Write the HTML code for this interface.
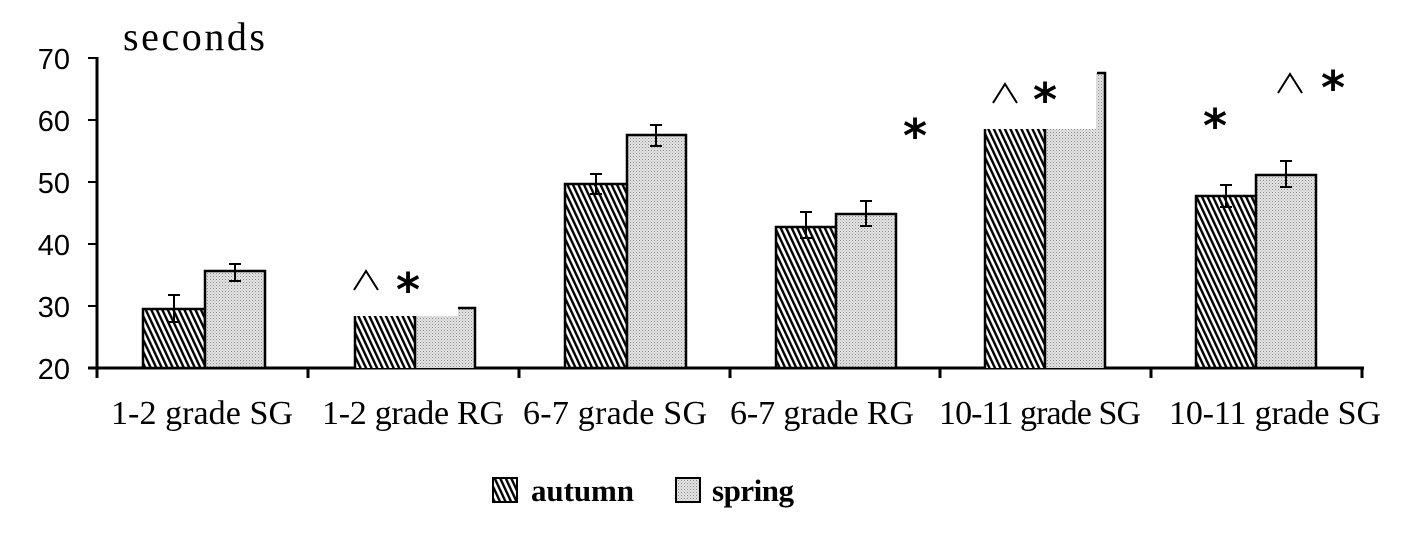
<!DOCTYPE html>
<html><head><style>body{margin:0;background:#fff}</style></head><body>
<svg width="1419" height="540" viewBox="0 0 1419 540" xmlns="http://www.w3.org/2000/svg">
<defs>
<pattern id="h" width="5" height="5" patternUnits="userSpaceOnUse" patternTransform="rotate(-25)">
<rect width="5" height="5" fill="#fff"/><rect width="2.4" height="5" fill="#000"/></pattern>
<pattern id="d" width="3" height="3" patternUnits="userSpaceOnUse">
<rect width="3" height="3" fill="#e4e4e4"/><rect x="0" y="0" width="1" height="1" fill="#888"/><rect x="1.5" y="1.5" width="1" height="1" fill="#aaa"/></pattern>
</defs>
<g font-family="Liberation Sans, sans-serif" font-size="29" text-anchor="end" fill="#000">
<text x="70" y="69">70</text><text x="70" y="131">60</text><text x="70" y="193">50</text>
<text x="70" y="255">40</text><text x="70" y="317">30</text><text x="70" y="379">20</text>
</g>
<text x="123" y="50" font-family="Liberation Serif, serif" font-size="40" textLength="142">seconds</text>
<g stroke="#000" stroke-width="3">
<line x1="97" y1="57" x2="97" y2="370"/>
<g stroke-width="2"><line x1="88" y1="58" x2="97" y2="58"/><line x1="88" y1="120" x2="97" y2="120"/><line x1="88" y1="182" x2="97" y2="182"/><line x1="88" y1="244" x2="97" y2="244"/><line x1="88" y1="306" x2="97" y2="306"/></g>
<line x1="88" y1="368" x2="1364" y2="368"/>
<line x1="97" y1="368" x2="97" y2="378"/><line x1="308" y1="368" x2="308" y2="378"/><line x1="519" y1="368" x2="519" y2="378"/><line x1="730" y1="368" x2="730" y2="378"/><line x1="940" y1="368" x2="940" y2="378"/><line x1="1151" y1="368" x2="1151" y2="378"/><line x1="1362" y1="368" x2="1362" y2="378"/>
</g>
<g stroke="#000" stroke-width="2.5">
<rect x="143" y="309" width="62" height="59" fill="url(#h)"/><rect x="205" y="271" width="60" height="97" fill="url(#d)"/>
<rect x="354" y="316" width="61" height="52" fill="url(#h)" stroke="none"/><rect x="415" y="316" width="60" height="52" fill="url(#d)" stroke="none"/>
<rect x="458" y="308" width="17" height="10" fill="url(#d)" stroke="none"/>
<path d="M355 368V316M415 368V316M475 368V308H458" fill="none"/>
<rect x="565" y="184" width="62" height="184" fill="url(#h)"/><rect x="627" y="135" width="59" height="233" fill="url(#d)"/>
<rect x="776" y="227" width="60" height="141" fill="url(#h)"/><rect x="836" y="214" width="60" height="154" fill="url(#d)"/>
<rect x="984" y="129" width="61" height="239" fill="url(#h)" stroke="none"/><rect x="1045" y="129" width="60" height="239" fill="url(#d)" stroke="none"/>
<rect x="1096" y="73" width="9" height="60" fill="url(#d)" stroke="none"/>
<path d="M985 368V129M1045 368V129M1105 368V73H1097" fill="none"/>
<rect x="1196" y="196" width="60" height="172" fill="url(#h)"/><rect x="1256" y="175" width="60" height="193" fill="url(#d)"/>
</g>
<g stroke="#000" stroke-width="2" fill="none">
<path d="M174 295V322M168 295H180M168 322H180"/>
<path d="M235 264V281M229 264H241M229 281H241"/>
<path d="M596 174V194M590 174H602M590 194H602"/>
<path d="M656 125V146M650 125H662M650 146H662"/>
<path d="M806 212V238M800 212H812M800 238H812"/>
<path d="M866 201V226M860 201H872M860 226H872"/>
<path d="M1226 185V207M1220 185H1232M1220 207H1232"/>
<path d="M1286 161V187M1280 161H1292M1280 187H1292"/>
</g>
<g font-family="DejaVu Sans, sans-serif" font-size="46" fill="#000" text-anchor="middle">
<path d="M354 290L366 271L378 290M993 103L1005 84L1017 103M1278 93L1290 74L1302 93" stroke="#000" stroke-width="2" fill="none"/>
<text x="408" y="306" font-weight="bold">*</text>
<text x="1045" y="116" font-weight="bold">*</text>
<text x="915" y="152" font-weight="bold">*</text>
<text x="1215" y="142" font-weight="bold">*</text>
<text x="1333" y="104" font-weight="bold">*</text>
</g>
<g font-family="Liberation Serif, serif" font-size="34" text-anchor="middle" fill="#000">
<text x="202" y="424" textLength="182">1-2 grade SG</text><text x="413" y="424" textLength="182">1-2 grade RG</text>
<text x="615" y="424" textLength="184">6-7 grade SG</text><text x="822" y="424" textLength="184">6-7 grade RG</text>
<text x="1040" y="424" textLength="202">10-11 grade SG</text><text x="1275" y="424" textLength="212">10-11 grade SG</text>
</g>
<rect x="493" y="478" width="24" height="24" fill="url(#h)" stroke="#000" stroke-width="2"/>
<rect x="676" y="478" width="24" height="24" fill="url(#d)" stroke="#000" stroke-width="2"/>
<g font-family="Liberation Serif, serif" font-size="31" font-weight="bold" fill="#000">
<text x="531" y="501" textLength="103">autumn</text><text x="712" y="501" textLength="82">spring</text>
</g>
</svg>
</body></html>
